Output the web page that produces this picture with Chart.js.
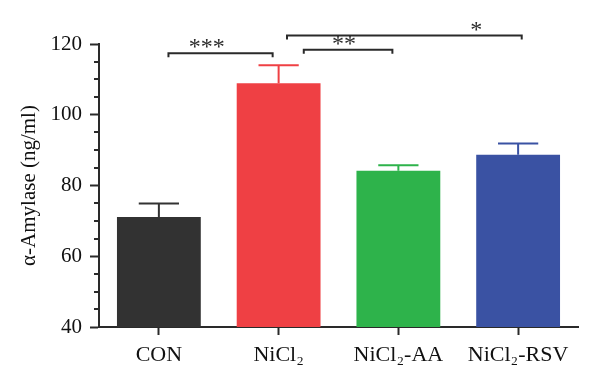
<!DOCTYPE html>
<html lang="en">
<head>
<meta charset="UTF-8" />
<title>α-Amylase</title>
<script src="https://cdn.jsdelivr.net/npm/chart.js"></script>
<style>
  body { margin: 0; background: #fff; }
  #wrap { width: 600px; height: 391px; }
</style>
</head>
<body>
<div id="wrap"><canvas id="amylaseChart"></canvas></div>
<script>
  const groups = ['CON', 'NiCl₂', 'NiCl₂-AA', 'NiCl₂-RSV'];
  const means = [71.1, 108.9, 84.2, 88.7];
  const errors = [3.8, 5.1, 1.5, 3.2];
  const barColors = ['#323232', '#ef4044', '#2eb34b', '#3a52a3'];

  // significance brackets: x in category units, y in ng/ml
  const sigLabels = ['***', '**', '*'];
  const sigFrom = [0.08, 1.21, 1.07];
  const sigTo = [0.95, 1.95, 3.03];
  const sigLevel = [117.4, 118.4, 122.4];
  const sigTextAt = [0.40, 1.545, 2.65];

  const serif = "'Liberation Serif', 'DejaVu Serif', serif";
  const ink = '#2a2a2a';

  const extras = {
    id: 'extras',
    afterDraw(chart) {
      const ctx = chart.ctx;
      const x = chart.scales.x, y = chart.scales.y;
      ctx.save();

      // minor ticks on the y axis
      ctx.strokeStyle = ink;
      ctx.lineWidth = 2;
      y.ticks.forEach(t => {
        if (t.value % 20 === 0) return;
        const py = Math.round(y.getPixelForValue(t.value));
        ctx.beginPath();
        ctx.moveTo(x.left - 5, py);
        ctx.lineTo(x.left, py);
        ctx.stroke();
      });

      // error bars (upper only)
      const meta = chart.getDatasetMeta(0);
      meta.data.forEach((bar, i) => {
        const top = y.getPixelForValue(means[i]);
        const hi = y.getPixelForValue(means[i] + errors[i]);
        const half = bar.width * 0.24;
        ctx.strokeStyle = barColors[i];
        ctx.lineWidth = 2;
        ctx.beginPath();
        ctx.moveTo(bar.x, top);
        ctx.lineTo(bar.x, hi);
        ctx.moveTo(bar.x - half, hi);
        ctx.lineTo(bar.x + half, hi);
        ctx.stroke();
      });

      // significance brackets
      ctx.strokeStyle = ink;
      ctx.fillStyle = ink;
      ctx.lineWidth = 2;
      ctx.font = '24px ' + serif;
      ctx.textAlign = 'center';
      ctx.textBaseline = 'alphabetic';
      sigLabels.forEach((lab, i) => {
        const x0 = x.getPixelForValue(sigFrom[i]);
        const x1 = x.getPixelForValue(sigTo[i]);
        const py = y.getPixelForValue(sigLevel[i]);
        ctx.beginPath();
        ctx.moveTo(x0, py + 4);
        ctx.lineTo(x0, py);
        ctx.lineTo(x1, py);
        ctx.lineTo(x1, py + 4);
        ctx.stroke();
        ctx.fillText(lab, x.getPixelForValue(sigTextAt[i]), py + 1);
      });
      ctx.restore();
    }
  };

  new Chart(document.getElementById('amylaseChart'), {
    type: 'bar',
    data: {
      labels: groups,
      datasets: [{
        data: means,
        backgroundColor: barColors,
        borderWidth: 0,
        categoryPercentage: 1,
        barPercentage: 0.7
      }]
    },
    options: {
      responsive: true,
      maintainAspectRatio: false,
      animation: false,
      layout: { padding: { top: 44, right: 22, left: 0, bottom: 0 } },
      plugins: {
        legend: { display: false },
        tooltip: { enabled: false }
      },
      scales: {
        x: {
          afterFit: s => { s.height = 64; },
          border: { color: ink, width: 2 },
          grid: { offset: false, drawOnChartArea: false, tickLength: 8, tickColor: ink, tickWidth: 2 },
          ticks: { color: '#111', font: { family: serif, size: 22 }, padding: 7, maxRotation: 0 }
        },
        y: {
          min: 40,
          max: 120,
          afterFit: s => { s.width = 99; },
          border: { color: ink, width: 2 },
          grid: {
            drawOnChartArea: false,
            tickLength: 9,
            tickWidth: 2,
            tickColor: c => (c.tick && c.tick.value % 20 === 0) ? ink : 'rgba(0,0,0,0)'
          },
          ticks: {
            stepSize: 5,
            autoSkip: false,
            padding: 8,
            color: '#111',
            font: { family: serif, size: 21 },
            callback: v => (v % 20 === 0 ? v : '')
          },
          title: {
            display: true,
            text: 'α-Amylase (ng/ml)',
            color: '#111',
            font: { family: serif, size: 21 },
            padding: { top: 17, bottom: 0 }
          }
        }
      }
    },
    plugins: [extras]
  });
</script>
</body>
</html>
